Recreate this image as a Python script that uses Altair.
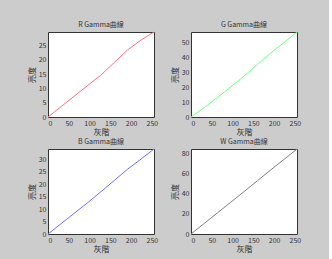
import altair as alt
import pandas as pd

gray_levels = [0, 32, 64, 96, 128, 160, 192, 224, 255]
r_values = [0, 3.7, 7.4, 11.1, 14.8, 19.2, 23.6, 27.0, 29.8]
g_values = [0, 6.3, 13.2, 20.2, 27.5, 35.2, 43.0, 50.0, 57.0]
b_values = [0, 4.2, 8.4, 12.6, 17.0, 21.5, 26.0, 30.0, 34.0]
w_values = [0, 10.5, 21.0, 31.5, 42.0, 52.7, 63.4, 73.8, 84.0]

titles = ["R Gamma曲線", "G Gamma曲線", "B Gamma曲線", "W Gamma曲線"]
colors = ["#ff6f7f", "#6fff7f", "#6f6fff", "#808080"]
y_maxes = [29.8, 57.0, 34.0, 84.0]
y_ticks = [[0, 5, 10, 15, 20, 25], [0, 10, 20, 30, 40, 50],
           [0, 5, 10, 15, 20, 25, 30], [0, 20, 40, 60, 80]]
x_ticks = [0, 50, 100, 150, 200, 250]
x_label = "灰階"
y_label = "亮度"

FONT = "Noto Sans CJK TC"

def panel(values, title, color, ymax, yt):
    df = pd.DataFrame({"x": gray_levels, "y": values})
    return alt.Chart(df, title=alt.TitleParams(title, fontSize=7, font=FONT,
                                               fontWeight="normal", color="#333333",
                                               offset=2)).mark_line(
        color=color, strokeWidth=1
    ).encode(
        x=alt.X("x:Q", scale=alt.Scale(domain=[0, 255], nice=False),
                axis=alt.Axis(values=x_ticks, title=x_label, titlePadding=2)),
        y=alt.Y("y:Q", scale=alt.Scale(domain=[0, ymax], nice=False, zero=True),
                axis=alt.Axis(values=yt, title=y_label)),
    ).properties(width=106, height=85)

charts = [panel(v, t, c, m, yt) for v, t, c, m, yt in
          zip([r_values, g_values, b_values, w_values], titles, colors, y_maxes, y_ticks)]

chart = alt.vconcat(
    alt.hconcat(charts[0], charts[1], spacing=11),
    alt.hconcat(charts[2], charts[3], spacing=11),
    spacing=0,
).properties(
    background="#cccccc",
    padding={"left": 27, "top": 20, "right": 27, "bottom": 10},
).configure_view(
    stroke="#333333", strokeWidth=1, fill="white"
).configure_axis(
    labelFont=FONT, titleFont=FONT, labelFontSize=7, titleFontSize=8,
    labelColor="#333333", titleColor="#333333", titleFontWeight="normal",
    ticks=False, domain=False, grid=False, labelPadding=2, titlePadding=2,
)

chart.save("out.html", embed_options={"renderer": "svg", "actions": False})
